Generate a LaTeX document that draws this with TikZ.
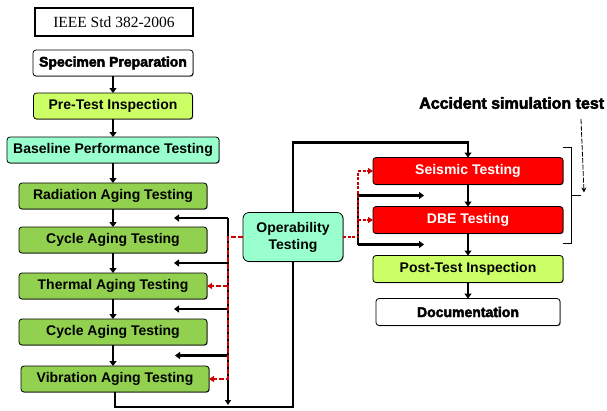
\documentclass[tikz,border=0pt]{standalone}
\usepackage{fontspec}
\setmainfont{Liberation Serif}
\setsansfont{Liberation Sans}
\newfontfamily\heavysans[BoldFeatures={FakeBold=3}]{Liberation Sans}
\usepackage{tikz}
\usetikzlibrary{arrows.meta, positioning, calc, shadows}
\definecolor{limefill}{RGB}{204,255,102}
\definecolor{mintfill}{RGB}{153,255,204}
\definecolor{agefill}{RGB}{146,208,80}
\definecolor{testred}{RGB}{255,0,0}
\definecolor{linkred}{RGB}{204,0,0}
\tikzset{
    stage/.style={rectangle, rounded corners=3pt, draw=black, line width=0.8pt, minimum height=26pt, inner sep=0pt, outer sep=0pt, text centered, font=\sffamily\bfseries\fontsize{14}{17}\selectfont, drop shadow={shadow xshift=0.7pt, shadow yshift=-0.7pt, opacity=1, fill=black!55}},
    plainstage/.style={stage, fill=white, font=\heavysans\bfseries\fontsize{14}{17}\selectfont},
    limestage/.style={stage, fill=limefill},
    mintstage/.style={stage, fill=mintfill},
    agestage/.style={stage, fill=agefill, minimum width=188pt},
    redstage/.style={stage, fill=testred, text=white, minimum width=190pt, minimum height=27pt},
    stdbox/.style={rectangle, draw=black, line width=1.2pt, fill=white, minimum width=158pt, minimum height=28pt, font=\rmfamily\fontsize{15.5}{18}\selectfont},
    arrow/.style={line width=2.2pt, -{Triangle[length=5pt, width=7pt]}},
    link/.style={line width=2.2pt},
    thinarrow/.style={line width=1.5pt, -{Triangle[length=5pt, width=6pt]}},
    redarrow/.style={draw=linkred, line width=2.2pt, dash pattern=on 5pt off 2pt, -{Triangle[length=5pt, width=6pt]}},
    reddot/.style={draw=linkred, line width=2.2pt, dash pattern=on 3pt off 1.5pt, -{Triangle[length=5pt, width=6pt]}},
    bracket/.style={line width=0.8pt},
    pointer/.style={line width=0.8pt, dash pattern=on 5pt off 1.5pt, -{Stealth[length=5pt, width=5pt]}}
}

\begin{document}
\begin{tikzpicture}[x=1pt, y=1pt]
    \useasboundingbox (0,0) rectangle (607,-410);

    % qualification sequence
    \node (std) [stdbox] at (114,-22) {IEEE Std 382-2006};
    \node (spec) [plainstage, minimum width=160pt] at (113,-63) {Specimen Preparation};
    \node (pre) [limestage, minimum width=159pt, below=17pt of spec] {Pre-Test Inspection};
    \node (base) [mintstage, minimum width=212pt, below=18pt of pre] {Baseline Performance Testing};
    \node (rad) [agestage, below=20pt of base] {Radiation Aging Testing};
    \node (cyc1) [agestage, below=18pt of rad] {Cycle Aging Testing};
    \node (therm) [agestage, below=20pt of cyc1] {Thermal Aging Testing};
    \node (cyc2) [agestage, below=20pt of therm] {Cycle Aging Testing};
    \node (vib) [agestage, below=21pt of cyc2, xshift=2pt] {Vibration Aging Testing};

    \node (oper) [mintstage, minimum width=100pt, minimum height=49pt, rounded corners=6pt, align=center] at (293,-237) {Operability\\Testing};

    % accident simulation tests
    \node (seis) [redstage] at (468,-171) {Seismic Testing};
    \node (dbe) [redstage, below=22pt of seis] {DBE Testing};
    \node (post) [limestage, minimum width=190pt, minimum height=27pt, below=22pt of dbe] {Post-Test Inspection};
    \node (doc) [plainstage, minimum width=184pt, minimum height=27pt, below=16pt of post] {Documentation};
    \node (acc) [anchor=west, inner sep=2pt, font=\heavysans\bfseries\fontsize{16}{19}\selectfont] at (417,-103) {Accident simulation test};

    \foreach \a/\b in {spec/pre, pre/base, base/rad, rad/cyc1, cyc1/therm, therm/cyc2, cyc2/vib, seis/dbe, dbe/post, post/doc}
        \draw [arrow] (\a.south) -- (\a.south |- \b.north);

    % loop through operability
    \draw [link] (vib.south) -- ++(0,-15) -| (oper.south);
    \draw [arrow] (oper.north) -- ++(0,70) -| (seis.north);

    % left bus
    \coordinate (lbus) at ([xshift=-15pt]oper.west);
    \foreach \a/\b [count=\i] in {rad/cyc1, cyc1/therm, therm/cyc2, cyc2/vib}
        \coordinate (lgap\i) at ($(\a.south)!0.5!(\b.north)$);
    \draw [thinarrow] (lgap1 -| lbus) -- ([yshift=-13pt]lbus |- vib.south);
    \foreach \i in {1,...,4}
        \draw [arrow] (lgap\i -| lbus) -- ([xshift=61pt]lgap\i);
    \draw [redarrow] (oper.west) -| (lbus |- vib.east) -- (vib.east);
    \draw [redarrow] (lbus |- therm.east) -- (therm.east);

    % right bus
    \coordinate (rbus) at ([xshift=15pt]oper.east);
    \coordinate (rgap1) at ($(seis.south)!0.5!(dbe.north)$);
    \coordinate (rgap2) at ($(dbe.south)!0.5!(post.north)$);
    \draw [arrow] (rgap2 -| rbus) -- (rgap1 -| rbus) -- ([xshift=-44pt]rgap1);
    \draw [arrow] (rgap2 -| rbus) -- ([xshift=-44pt]rgap2);
    \draw [reddot] (oper.east) -| (rbus |- seis.west) -- (seis.west);
    \draw [reddot] (rbus |- dbe.west) -- (dbe.west);

    % bracket over seismic and DBE
    \draw [bracket] ([yshift=10pt]seis.north east) -- ++(8,0) |- ([yshift=-10pt]dbe.south east);
    \coordinate (tick) at ($(seis.south east)!0.5!(dbe.north east)+(18pt,0)$);
    \draw [bracket] (tick) -- ++(-10,0);
    \draw [pointer] ([yshift=-8pt]tick |- acc.south) -- ([xshift=3pt, yshift=3pt]tick);
\end{tikzpicture}
\end{document}
